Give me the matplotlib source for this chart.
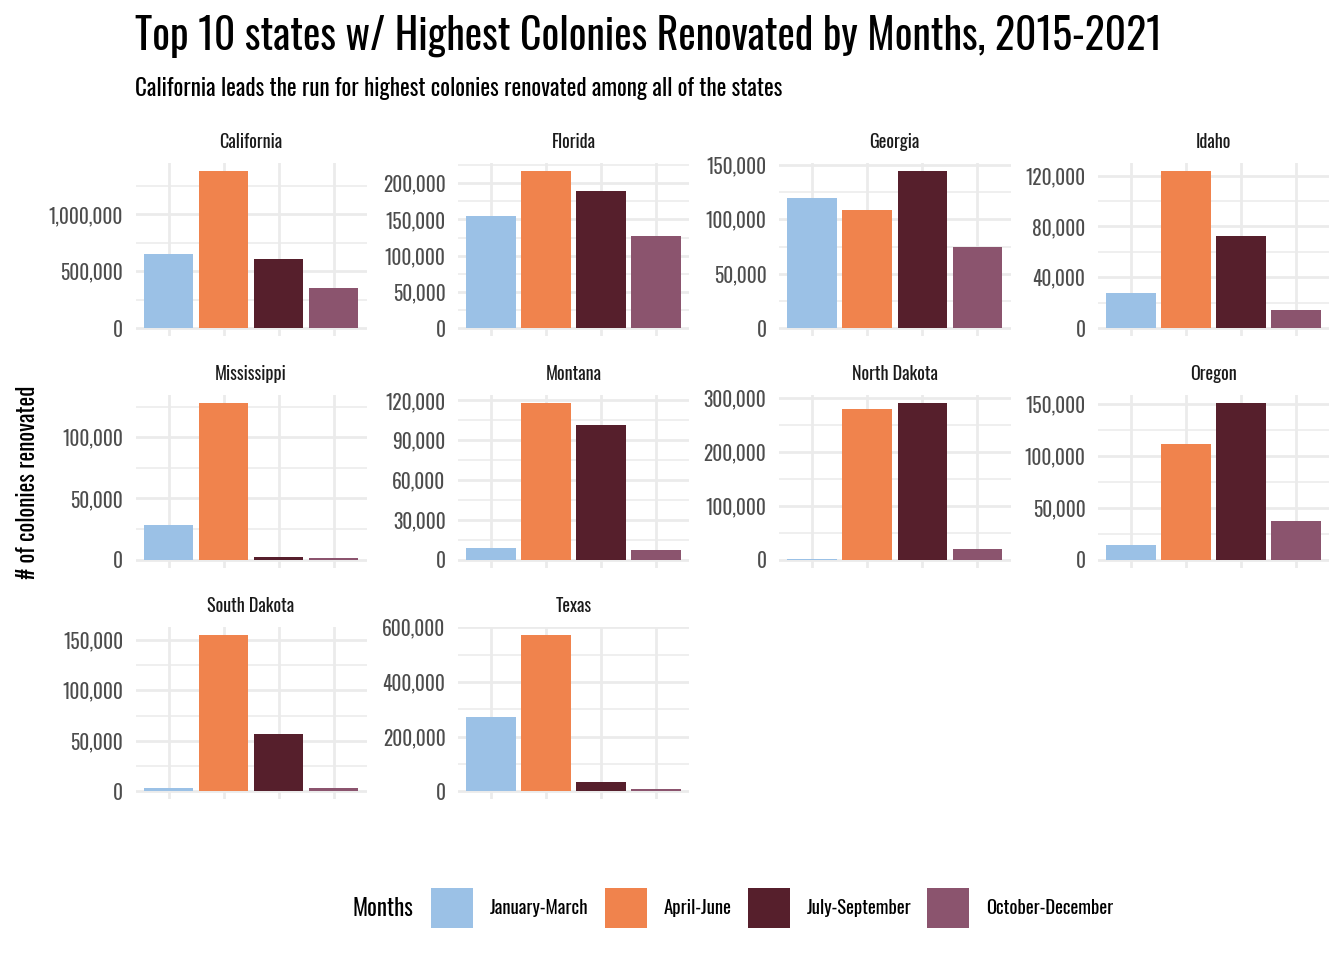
import matplotlib
matplotlib.use("Agg")
import matplotlib.pyplot as plt
from matplotlib import font_manager
from matplotlib.ticker import MultipleLocator, FuncFormatter
from matplotlib.patches import Patch

# ---- data ----
states = ["California", "Florida", "Georgia", "Idaho", "Mississippi",
          "Montana", "North Dakota", "Oregon", "South Dakota", "Texas"]
months = ["January-March", "April-June", "July-September", "October-December"]
jan_mar = [650000, 155000, 119500, 27400, 28100, 8600, 1200, 13800, 3000, 272000]
apr_jun = [1382000, 217000, 108500, 123700, 128100, 118200, 280000, 111400, 155000, 572000]
jul_sep = [606000, 189000, 144500, 72400, 1900, 101600, 291000, 151000, 56800, 34000]
oct_dec = [350000, 127000, 74400, 13900, 1100, 7300, 19300, 37000, 3300, 7300]
tick_step = [500000, 50000, 50000, 40000, 50000, 30000, 100000, 50000, 50000, 200000]
colors = ["#9BC1E6", "#F0834D", "#561F2C", "#8B546E"]

avail = {f.name for f in font_manager.fontManager.ttflist}
fam = "Oswald" if "Oswald" in avail else "DejaVu Sans"
plt.rcParams["font.family"] = [fam, "DejaVu Sans"]
plt.rcParams["font.weight"] = "light"

W, H = 1344, 960
fig = plt.figure(figsize=(W / 100, H / 100), dpi=100)

col_x = [(135.5, 366.5), (458, 689), (779, 1010.5), (1098, 1329)]
row_y = [(163, 336), (395, 567.5), (627, 799)]

series = [jan_mar, apr_jun, jul_sep, oct_dec]
fmt = FuncFormatter(lambda v, p: f"{int(round(v)):,}")

for i, st in enumerate(states):
    r, c = divmod(i, 4)
    x0, x1 = col_x[c]
    y0, y1 = row_y[r]
    ax = fig.add_axes([x0 / W, 1 - y1 / H, (x1 - x0) / W, (y1 - y0) / H])
    vals = [s[i] for s in series]
    ax.bar(range(4), vals, width=0.9, color=colors, zorder=3)
    m = max(vals)
    ax.set_ylim(-0.05 * m, 1.05 * m)
    ax.set_xlim(-0.6, 3.6)
    step = tick_step[i]
    ax.yaxis.set_major_locator(MultipleLocator(step))
    ax.yaxis.set_minor_locator(MultipleLocator(step / 2))
    ax.yaxis.set_major_formatter(fmt)
    ax.set_xticks(range(4))
    ax.set_xticklabels([])
    ax.grid(True, which="major", axis="both", color="#EBEBEB", lw=2.0, zorder=0)
    ax.grid(True, which="minor", axis="y", color="#EBEBEB", lw=1.1, zorder=0)
    ax.tick_params(axis="both", which="both", length=0)
    ax.tick_params(axis="y", labelsize=14, labelcolor="#4D4D4D", pad=9)
    for sp in ax.spines.values():
        sp.set_visible(False)
    ax.set_facecolor("none")
    ax.set_title(st, fontsize=13, color="#1A1A1A", pad=10.5)

fig.text(135 / W, 1 - 36 / H, "Top 10 states w/ Highest Colonies Renovated by Months, 2015-2021",
         fontsize=30, ha="left", va="center", color="black")
fig.text(135 / W, 1 - 89 / H, "California leads the run for highest colonies renovated among all of the states",
         fontsize=16.6, ha="left", va="center", color="black")
fig.text(28 / W, 1 - 482 / H, "# of colonies renovated", rotation=90, fontsize=16.5,
         ha="center", va="center", color="black")

fig.text(383 / W, 1 - 908 / H, "Months", fontsize=16.5, ha="center", va="center")
handles = [Patch(facecolor=col, edgecolor="none", label=lab) for col, lab in zip(colors, months)]
fig.legend(handles=handles, loc="center left", bbox_to_anchor=(431 / W, 1 - 908 / H),
           ncol=4, frameon=False, fontsize=13.5, handlelength=2.25, handleheight=2.9,
           handletextpad=0.9, columnspacing=0.85, borderpad=0, borderaxespad=0)

fig.savefig("out.png", dpi=100, facecolor="white")
